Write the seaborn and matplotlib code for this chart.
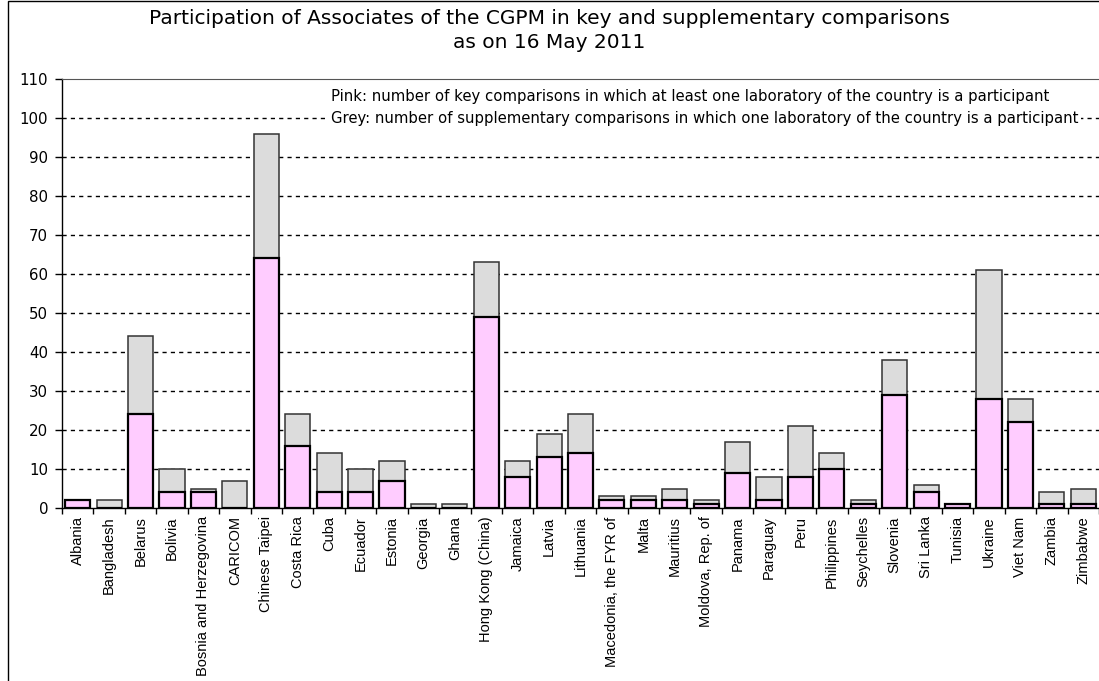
import numpy as np
import pandas as pd
import matplotlib
matplotlib.use('Agg')
import matplotlib.pyplot as plt
import seaborn as sns
from matplotlib.patches import Rectangle

countries = ['Albania', 'Bangladesh', 'Belarus', 'Bolivia', 'Bosnia and Herzegovina',
             'CARICOM', 'Chinese Taipei', 'Costa Rica', 'Cuba', 'Ecuador', 'Estonia',
             'Georgia', 'Ghana', 'Hong Kong (China)', 'Jamaica', 'Latvia', 'Lithuania',
             'Macedonia, the FYR of', 'Malta', 'Mauritius', 'Moldova, Rep. of', 'Panama',
             'Paraguay', 'Peru', 'Philippines', 'Seychelles', 'Slovenia', 'Sri Lanka',
             'Tunisia', 'Ukraine', 'Viet Nam', 'Zambia', 'Zimbabwe']
# key comparisons (pink)
key = [2, 0, 24, 4, 4, 0, 64, 16, 4, 4, 7, 0, 0, 49, 8, 13, 14,
       2, 2, 2, 1, 9, 2, 8, 10, 1, 29, 4, 1, 28, 22, 1, 1]
# supplementary comparisons (grey)
supplementary = [0, 2, 20, 6, 1, 7, 32, 8, 10, 6, 5, 1, 1, 14, 4, 6, 10,
                 1, 1, 3, 1, 8, 6, 13, 4, 1, 9, 2, 0, 33, 6, 3, 4]

df = pd.DataFrame({'country': countries, 'key': key, 'supp': supplementary})
df['total'] = df['key'] + df['supp']

sns.set_style('white')
plt.rcParams['font.family'] = ['Liberation Sans', 'DejaVu Sans']
plt.rcParams['text.color'] = 'black'
plt.rcParams['xtick.labelcolor'] = 'black'
plt.rcParams['ytick.labelcolor'] = 'black'

fig = plt.figure(figsize=(10.99, 6.81), dpi=100)
ax = fig.add_axes([62 / 1099, 1 - 508 / 681, 1 - 62 / 1099, (508 - 79) / 681])

# grey total first, pink key drawn over it
sns.barplot(data=df, x='country', y='total', color='#dcdcdc', edgecolor='#333333',
            linewidth=1.1, width=0.8, saturation=1, ax=ax)
sns.barplot(data=df, x='country', y='key', color='#ffccff', edgecolor='black',
            linewidth=1.6, width=0.8, saturation=1, ax=ax)

for y in range(10, 101, 10):
    ax.axhline(y, color='black', lw=1, ls=(0, (3, 3)), zorder=0.5)

ax.set_ylim(0, 110)
ax.set_xlim(-0.5, len(countries) - 0.5)
ax.set_yticks(range(0, 111, 10))
ax.set_xlabel('')
ax.set_ylabel('')

ax.set_xticks(np.arange(-0.5, len(countries), 1), minor=True)
ax.tick_params(axis='x', which='major', length=0, pad=6, labelsize=10.5, labelrotation=90,
               labelcolor='black')
ax.tick_params(axis='x', which='minor', bottom=True, length=4, width=1, color='black')
ax.tick_params(axis='y', left=True, length=5, width=1, color='black', labelsize=10.8, pad=5,
               labelcolor='black')
for lab in ax.get_yticklabels():
    lab.set_fontfamily('DejaVu Sans')
for lab in ax.get_xticklabels():
    lab.set_verticalalignment('top')

for side in ['left', 'bottom']:
    ax.spines[side].set_color('black')
    ax.spines[side].set_linewidth(1)
ax.spines['top'].set_color('#555555')
ax.spines['right'].set_visible(False)

fig.text(0.5, 1 - 18 / 681, 'Participation of Associates of the CGPM in key and supplementary comparisons',
         ha='center', va='center', fontsize=14.5, family='DejaVu Sans', color='black')
fig.text(0.5, 1 - 42 / 681, 'as on 16 May 2011',
         ha='center', va='center', fontsize=14.5, family='DejaVu Sans', color='black')

box = dict(facecolor='white', edgecolor='none', pad=2)
fig.text(331 / 1099, 1 - 96 / 681,
         'Pink: number of key comparisons in which at least one laboratory of the country is a participant',
         ha='left', va='center', fontsize=10.7, family='DejaVu Sans', color='black', bbox=box)
fig.text(331 / 1099, 1 - 119 / 681,
         'Grey: number of supplementary comparisons in which one laboratory of the country is a participant',
         ha='left', va='center', fontsize=10.7, family='DejaVu Sans', color='black', bbox=box)

fig.patches.append(Rectangle((8 / 1099, -0.01), 1.1, 1.01 - 1 / 681, transform=fig.transFigure,
                             fill=False, edgecolor='black', lw=1))

fig.savefig('out.png', dpi=100)
